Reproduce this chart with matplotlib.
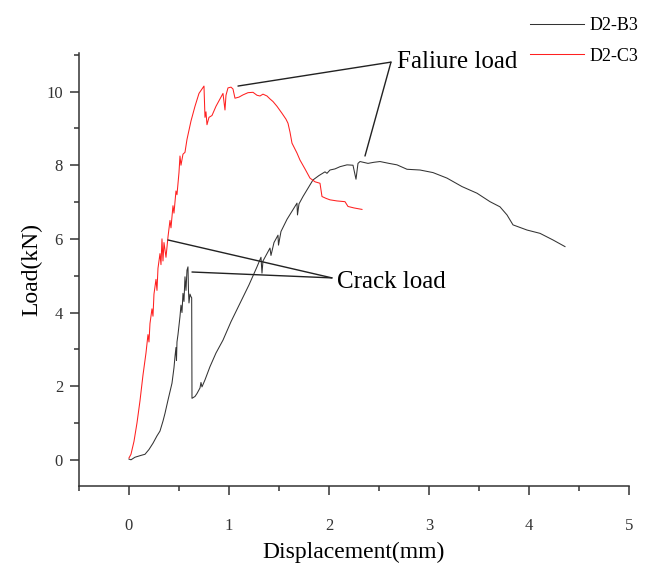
import matplotlib
matplotlib.use("Agg")
import matplotlib.pyplot as plt
from matplotlib.ticker import MultipleLocator

# D2-B3 (black) load-displacement data
b3_disp = [0.00, 0.02, 0.06, 0.12, 0.16, 0.20, 0.24, 0.28, 0.31, 0.34, 0.36, 0.39, 0.41, 0.43,
           0.45, 0.46, 0.47, 0.475, 0.48, 0.49, 0.51, 0.52, 0.53, 0.54, 0.55, 0.56, 0.57, 0.58,
           0.59, 0.595, 0.60, 0.61, 0.62, 0.627, 0.63, 0.66, 0.68, 0.71, 0.72, 0.73, 0.76, 0.81,
           0.87, 0.94, 1.02, 1.11, 1.20, 1.28, 1.32, 1.33, 1.34, 1.38, 1.41, 1.42, 1.45, 1.49,
           1.495, 1.52, 1.58, 1.63, 1.68, 1.685, 1.70, 1.74, 1.78, 1.84, 1.90, 1.96, 1.98, 2.01,
           2.06, 2.11, 2.18, 2.24, 2.27, 2.29, 2.31, 2.39, 2.45, 2.51, 2.60, 2.68, 2.78, 2.91,
           3.04, 3.18, 3.33, 3.48, 3.61, 3.71, 3.78, 3.84, 3.98, 4.11, 4.24, 4.36]
b3_load = [0.02, 0.00, 0.07, 0.12, 0.15, 0.28, 0.45, 0.65, 0.78, 1.05, 1.26, 1.62, 1.85, 2.08,
           2.50, 2.80, 3.05, 2.70, 3.20, 3.40, 3.89, 4.20, 4.00, 4.52, 4.30, 4.97, 4.60, 5.15,
           5.24, 4.60, 4.26, 4.50, 4.43, 4.40, 1.67, 1.72, 1.80, 1.95, 2.10, 1.98, 2.17, 2.53,
           2.90, 3.25, 3.75, 4.25, 4.75, 5.24, 5.50, 5.07, 5.40, 5.60, 5.75, 5.55, 5.90, 6.10,
           5.83, 6.20, 6.53, 6.75, 6.97, 6.65, 6.95, 7.15, 7.33, 7.60, 7.72, 7.82, 7.78, 7.87,
           7.90, 7.96, 8.01, 8.00, 7.62, 8.05, 8.10, 8.05, 8.08, 8.10, 8.05, 8.01, 7.89, 7.87,
           7.80, 7.65, 7.42, 7.24, 7.01, 6.87, 6.65, 6.38, 6.24, 6.15, 5.97, 5.79]

# D2-C3 (red) load-displacement data
c3_disp = [0.00, 0.02, 0.05, 0.08, 0.11, 0.14, 0.17, 0.19, 0.20, 0.21, 0.23, 0.24, 0.25, 0.27,
           0.28, 0.29, 0.31, 0.32, 0.33, 0.34, 0.35, 0.37, 0.39, 0.41, 0.42, 0.44, 0.45, 0.47,
           0.48, 0.50, 0.51, 0.52, 0.54, 0.56, 0.58, 0.62, 0.66, 0.70, 0.75, 0.76, 0.77, 0.78,
           0.80, 0.83, 0.87, 0.91, 0.94, 0.96, 0.97, 0.99, 1.02, 1.04, 1.06, 1.10, 1.14, 1.19,
           1.24, 1.28, 1.31, 1.34, 1.38, 1.41, 1.44, 1.48, 1.53, 1.57, 1.59, 1.61, 1.63, 1.68,
           1.71, 1.76, 1.81, 1.86, 1.91, 1.93, 1.97, 2.01, 2.08, 2.16, 2.19, 2.25, 2.33]
c3_load = [0.05, 0.15, 0.50, 1.00, 1.60, 2.30, 2.90, 3.40, 3.20, 3.70, 4.10, 3.90, 4.50, 4.90,
           4.60, 5.20, 5.60, 5.30, 6.00, 5.40, 5.90, 5.50, 6.05, 6.50, 6.30, 6.90, 6.70, 7.30,
           7.20, 7.80, 8.25, 8.00, 8.30, 8.35, 8.70, 9.20, 9.60, 9.95, 10.15, 9.30, 9.45, 9.10,
           9.30, 9.35, 9.60, 9.80, 9.95, 9.50, 9.90, 10.10, 10.12, 10.07, 9.82, 9.85, 9.91, 9.97,
           9.98, 9.90, 9.88, 9.93, 9.88, 9.80, 9.73, 9.60, 9.41, 9.25, 9.14, 8.90, 8.60, 8.33,
           8.14, 7.90, 7.65, 7.55, 7.51, 7.15, 7.10, 7.06, 7.03, 7.01, 6.88, 6.84, 6.80]

series_labels = ["D2-B3", "D2-C3"]
x_ticks = [0, 1, 2, 3, 4, 5]
y_ticks = [0, 2, 4, 6, 8, 10]

serif = ["Liberation Serif", "DejaVu Serif"]
plt.rcParams["font.family"] = serif

fig = plt.figure(figsize=(6.5, 5.68), dpi=100)
ax = fig.add_axes([0.1215, 0.1438, 0.8462, 0.7624])

ax.plot(b3_disp, b3_load, color="#333333", lw=0.75, label=series_labels[0])
ax.plot(c3_disp, c3_load, color="#ff2020", lw=0.75, label=series_labels[1])

ax.set_xlim(-0.5, 5)
ax.set_ylim(-0.72, 11.04)
ax.set_xticks(x_ticks)
ax.set_yticks(y_ticks)
ax.xaxis.set_minor_locator(MultipleLocator(0.5))
ax.yaxis.set_minor_locator(MultipleLocator(1))
for s in ["top", "right"]:
    ax.spines[s].set_visible(False)
for s in ["left", "bottom"]:
    ax.spines[s].set_linewidth(1.1)
    ax.spines[s].set_color("#333333")
ax.tick_params(which="major", direction="out", length=6.5, width=1.1, color="#333333",
               labelsize=12, labelcolor="#333333")
ax.tick_params(which="minor", direction="out", length=3.5, width=1.1, color="#333333")
ax.tick_params(axis="x", which="major", pad=16)
ax.tick_params(axis="y", which="major", pad=5)

ax.set_xlabel("Displacement(mm)", fontsize=17, labelpad=6)
ax.set_ylabel("Load(kN)", fontsize=17, labelpad=3)

# annotations
lc = "#222222"
line_kw = dict(arrowstyle="-", color=lc, lw=1.0, shrinkA=0, shrinkB=0)
ax.text(2.68, 10.8, "Faliure load", fontsize=18, va="center", ha="left")
ax.annotate("", xy=(2.36, 8.25), xytext=(2.62, 10.8), arrowprops=line_kw)
ax.annotate("", xy=(1.09, 10.15), xytext=(2.62, 10.8), arrowprops=line_kw)
ax.text(2.08, 4.83, "Crack load", fontsize=18, va="center", ha="left")
ax.annotate("", xy=(0.39, 5.97), xytext=(2.03, 4.94), arrowprops=line_kw)
ax.annotate("", xy=(0.63, 5.1), xytext=(2.03, 4.94), arrowprops=line_kw)

leg = ax.legend(loc="upper left", bbox_to_anchor=(530 / 650, 1 - 17 / 568),
                bbox_transform=fig.transFigure, frameon=False, fontsize=13,
                handlelength=3.0, handletextpad=0.3, labelspacing=0.75, borderpad=0,
                borderaxespad=0)

fig.savefig("out.png", dpi=100)
